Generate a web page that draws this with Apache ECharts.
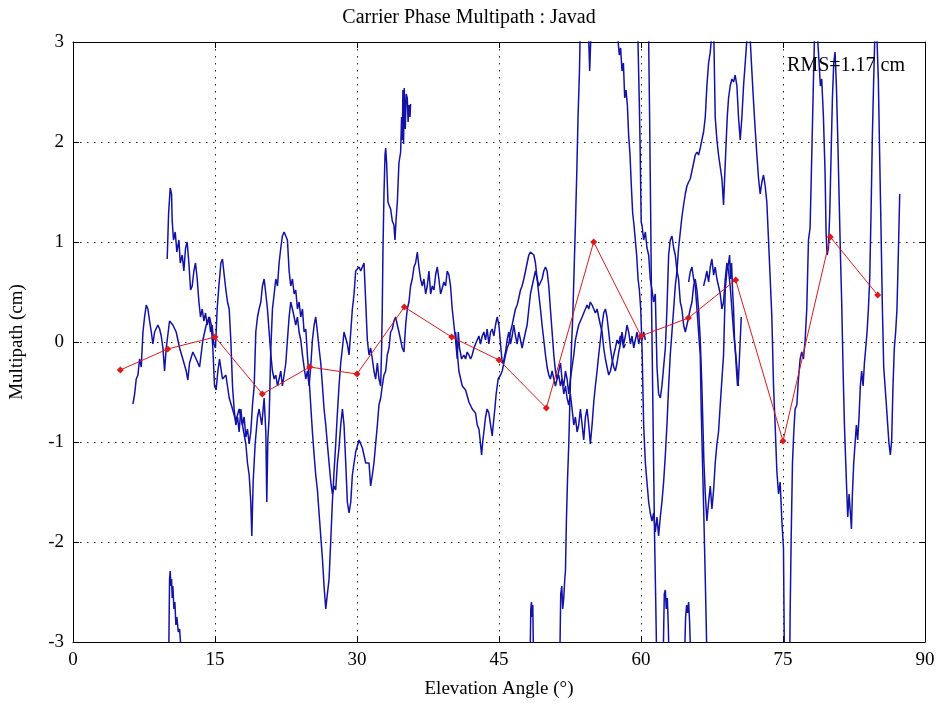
<!DOCTYPE html>
<html>
<head>
<meta charset="utf-8">
<script src="https://cdn.jsdelivr.net/npm/echarts@6/dist/echarts.min.js"></script>
<style>html,body{margin:0;padding:0;background:#fff;}#chart{width:938px;height:708px;}</style>
</head>
<body>
<div id="chart"></div>
<script>
// ---- data (elevation angle in degrees, multipath in cm) ----
const titleText = 'Carrier Phase Multipath : Javad';
const rmsText = 'RMS=1.17 cm';
const xName = 'Elevation Angle (\u00b0)';
const yName = 'Multipath (cm)';
const xRange = [0, 90, 15];
const yRange = [-3, 3, 1];

// binned mean (red)
const binAngles = [5,10,15,20,25,30,35,40,45,50,55,60,65,70,75,80,85];
const binMeans  = [-0.28,-0.07,0.05,-0.52,-0.25,-0.32,0.35,0.05,-0.18,-0.66,1.0,0.06,0.24,0.62,-0.99,1.05,0.47];

// blue multipath traces
const traceA = [[6.33,-0.62],[6.51,-0.52],[6.68,-0.37],[6.86,-0.33],[7.03,-0.17],[7.21,-0.25],[7.39,0.10],[7.56,0.25],[7.74,0.37],[7.91,0.33],[8.09,0.21],[8.27,0.10],[8.44,-0.02],[8.62,0.10],[8.79,0.10],[8.97,0.17],[9.15,0.13],[9.32,0.06],[9.50,-0.06],[9.67,-0.29],[9.85,-0.06],[10.20,0.21],[10.55,0.17],[10.90,0.10],[11.26,-0.06],[11.60,-0.17],[11.96,-0.29],[12.13,-0.38],[12.31,-0.21],[12.66,-0.10],[13.01,-0.17],[13.37,-0.25],[13.72,0.02],[14.07,0.17],[14.42,0.25],[14.60,0.17],[14.77,-0.06],[14.95,-0.44],[15.12,-0.48],[15.30,-0.29],[15.48,-0.17],[15.79,-0.37],[16.15,-0.33],[16.50,-0.56],[16.85,-0.67],[17.20,-0.79],[17.55,-0.67],[17.90,-0.83],[18.26,-1.02],[18.43,-1.21],[18.61,-1.33],[18.78,-1.60],[18.89,-1.94],[19.03,-1.40],[19.24,-1.02],[19.49,-0.75],[19.66,-0.67],[19.94,-0.83],[20.19,-0.56],[20.37,-0.90],[20.47,-1.60],[20.58,-0.98],[20.72,-0.75],[20.90,-0.06],[21.07,0.33],[21.25,0.48],[21.42,0.63],[21.60,0.56],[21.77,0.79],[21.95,0.94],[22.12,1.06],[22.30,1.10],[22.48,1.08],[22.65,1.02],[22.83,0.71],[23.00,0.56],[23.18,0.63],[23.36,0.48],[23.53,0.52],[23.71,0.33],[23.88,0.40],[24.06,0.25],[24.24,0.33],[24.41,0.10],[24.59,0.13],[24.76,-0.13],[24.94,-0.37],[25.11,-0.63],[25.29,-0.90],[25.47,-1.13],[25.64,-1.33],[25.82,-1.48],[25.99,-1.71],[26.17,-1.94],[26.35,-2.17],[26.52,-2.44],[26.70,-2.67],[26.87,-2.52],[27.05,-2.37],[27.23,-1.98],[27.40,-1.60],[27.58,-1.29],[27.75,-1.02],[27.93,-0.71],[28.10,-0.44],[28.28,-0.21],[28.46,-0.06],[28.63,0.10],[28.81,0.10],[28.98,-0.02],[29.16,-0.13],[29.34,0.10],[29.51,0.33],[29.69,0.48],[29.86,0.71],[30.22,0.75],[30.39,0.71],[30.56,0.75],[30.74,0.79],[30.92,0.40],[31.09,0.02],[31.27,-0.13],[31.44,-0.06],[31.62,-0.17],[31.79,-0.29],[31.97,-0.37],[32.15,-0.21],[32.32,-0.37],[32.50,-0.44],[32.60,-0.06],[32.67,0.33],[32.74,0.90],[32.85,1.48],[32.96,1.87],[33.03,1.94],[33.13,1.79],[33.27,1.40],[33.38,1.37],[33.55,1.33],[33.73,1.21],[33.90,1.17],[34.01,1.02],[34.12,1.21],[34.26,1.40],[34.43,1.79],[34.61,1.90],[34.71,2.25],[34.78,2.02],[34.85,2.52],[34.92,1.98],[34.99,2.54],[35.10,2.13],[35.20,2.48],[35.31,2.44],[35.40,2.20],[35.49,2.37],[35.60,2.25],[35.66,2.38]];

const traceB = [[9.95,0.83],[10.10,1.29],[10.27,1.54],[10.41,1.48],[10.48,1.21],[10.62,1.02],[10.80,1.10],[10.97,0.90],[11.19,1.02],[11.33,0.79],[11.54,0.87],[11.71,0.71],[11.89,0.94],[12.06,1.00],[12.24,0.79],[12.42,0.52],[12.59,0.56],[12.77,0.71],[12.94,0.79],[13.12,0.63],[13.30,0.40],[13.47,0.25],[13.65,0.33],[13.82,0.21],[14.00,0.29],[14.17,0.17],[14.35,0.25],[14.53,0.10],[14.70,0.17],[14.88,-0.02],[15.05,-0.06],[15.23,0.33],[15.41,0.56],[15.55,0.71],[15.62,0.79],[15.79,0.83],[15.97,0.67],[16.15,0.52],[16.32,0.40],[16.50,0.33],[16.67,0.02],[16.85,-0.44],[17.02,-0.67],[17.20,-0.83],[17.38,-0.75],[17.55,-0.90],[17.73,-0.67],[17.90,-0.83],[18.08,-0.75],[18.26,-0.95],[18.43,-0.87],[18.61,-1.02],[18.78,-0.90],[18.96,-0.63],[19.14,-0.44],[19.31,0.10],[19.49,0.25],[19.66,0.33],[19.84,0.40],[20.01,0.56],[20.19,0.63],[20.37,0.48],[20.54,0.33],[20.72,0.10],[20.90,-0.13],[21.07,-0.29],[21.25,-0.37],[21.42,-0.33],[21.60,-0.44],[21.77,-0.37],[21.95,-0.29],[22.12,-0.44],[22.30,-0.33],[22.48,-0.21],[22.65,0.02],[22.83,0.25],[23.00,0.40],[23.18,0.33],[23.36,0.25],[23.53,0.17],[23.71,0.25],[23.88,0.10],[24.06,0.02],[24.24,-0.13],[24.41,-0.25],[24.59,-0.37],[24.76,-0.29],[24.94,-0.44],[25.11,-0.25],[25.29,0.02],[25.47,0.17],[25.64,0.25],[25.82,0.10],[25.99,-0.06],[26.17,-0.21],[26.35,-0.44],[26.52,-0.67],[26.70,-0.83],[26.87,-1.02],[27.05,-1.21],[27.23,-1.40],[27.40,-1.52],[27.58,-1.44],[27.75,-1.48],[27.93,-1.21],[28.10,-1.06],[28.28,-0.83],[28.46,-0.67],[28.63,-0.83],[28.81,-1.21],[28.98,-1.60],[29.16,-1.71],[29.34,-1.60],[29.51,-1.33],[29.69,-1.21],[29.86,-1.10],[30.22,-0.98],[30.57,-1.06],[30.92,-1.21],[31.27,-1.21],[31.44,-1.44],[31.62,-1.33],[31.79,-1.21],[31.97,-1.02],[32.15,-0.83],[32.32,-0.63],[32.50,-0.56],[32.67,-0.44],[32.85,-0.33],[33.03,-0.29],[33.20,-0.13],[33.38,-0.06],[33.55,0.10],[33.73,0.13],[33.90,0.21],[34.08,0.25],[34.26,0.17],[34.43,0.10],[34.61,0.02],[34.78,-0.06],[34.96,-0.10],[35.14,0.17]];

const traceC = [[35.14,0.17],[35.31,0.33],[35.49,0.40],[35.66,0.56],[35.84,0.63],[36.02,0.75],[36.19,0.79],[36.37,0.90],[36.54,0.75],[36.72,0.63],[36.89,0.56],[37.07,0.63],[37.25,0.48],[37.42,0.56],[37.60,0.71],[37.78,0.48],[37.95,0.56],[38.13,0.52],[38.30,0.67],[38.48,0.75],[38.65,0.63],[38.83,0.48],[39.01,0.48],[39.18,0.60],[39.36,0.56],[39.53,0.71],[39.71,0.67],[39.88,0.56],[40.06,0.33],[40.24,0.17],[40.41,0.02],[40.59,-0.17],[40.70,0.10],[40.83,-0.06],[41.05,-0.17],[41.29,-0.13],[41.47,-0.17],[41.64,-0.10],[41.82,-0.13],[42.00,-0.17],[42.17,-0.13],[42.35,-0.06],[42.52,-0.02],[42.70,0.02],[42.88,0.06],[43.05,-0.02],[43.23,0.06],[43.40,0.10],[43.58,0.02],[43.75,0.13],[43.93,-0.02],[44.11,0.10],[44.28,0.13],[44.46,0.06],[44.63,0.17],[44.81,0.25],[44.99,0.17],[45.16,-0.02],[45.34,-0.21],[45.51,-0.18],[45.69,-0.10],[45.86,0.02],[46.04,0.10],[46.21,-0.02],[46.39,0.06],[46.56,0.17],[46.74,0.06],[46.92,-0.02],[47.09,0.10],[47.27,0.02],[47.44,-0.06],[47.62,0.02],[47.80,0.10],[47.97,0.17],[48.15,0.33],[48.32,0.48],[48.50,0.56],[48.85,0.71],[49.20,0.56],[49.55,0.63],[49.73,0.71],[49.91,0.75],[50.08,0.71],[50.26,0.56],[50.43,0.33],[50.61,0.10],[50.79,-0.13],[50.96,-0.29],[51.14,-0.37],[51.31,-0.33],[51.49,-0.44],[51.66,-0.37],[51.84,-0.52],[52.02,-0.44],[52.19,-0.56],[52.37,-0.63],[52.54,-0.52],[52.72,-0.67],[52.90,-0.83],[53.07,-0.75],[53.25,-0.90],[53.42,-0.83],[53.60,-0.67],[53.78,-0.83],[53.95,-0.98],[54.13,-0.75],[54.30,-0.67],[54.48,-0.83],[54.65,-1.02],[54.83,-0.83],[55.01,-0.60],[55.18,-0.44],[55.36,-0.29],[55.53,-0.13],[55.71,0.02],[55.89,0.17],[56.06,0.29],[56.24,0.33],[56.41,0.25],[56.59,0.10],[56.77,-0.06],[56.94,-0.17],[57.12,-0.25],[57.29,-0.29],[57.47,-0.21],[57.65,-0.10],[57.82,-0.02],[58.00,0.10],[58.17,-0.02],[58.35,0.06],[58.52,0.17],[58.70,0.10],[58.88,-0.02],[59.05,0.06],[59.23,-0.06],[59.40,0.02],[59.58,0.10],[59.76,-0.02],[59.93,0.06],[60.11,0.02],[60.28,0.10],[60.46,0.02]];

const traceD = [[40.41,0.10],[40.76,-0.29],[41.12,-0.44],[41.47,-0.48],[41.82,-0.60],[42.17,-0.67],[42.52,-0.71],[42.70,-0.83],[42.88,-0.87],[43.05,-1.02],[43.16,-1.13],[43.30,-0.98],[43.40,-0.90],[43.58,-0.75],[43.75,-0.67],[43.93,-0.71],[44.11,-0.83],[44.28,-0.94],[44.39,-0.83],[44.56,-0.67],[44.70,-0.52],[44.91,-0.37],[45.16,-0.33],[45.34,-0.29],[45.51,-0.21],[45.69,-0.13],[45.86,-0.06],[46.04,-0.02],[46.21,0.10],[46.39,0.17],[46.56,0.25],[46.74,0.33],[46.92,0.37],[47.09,0.44],[47.27,0.52],[47.44,0.56],[47.62,0.63],[47.80,0.71],[47.97,0.79],[48.15,0.87],[48.32,0.90],[48.50,0.90],[48.68,0.87],[48.85,0.79],[49.03,0.63],[49.20,0.48],[49.38,0.33],[49.55,0.17],[49.73,0.02],[49.91,-0.13],[50.08,-0.25],[50.26,-0.33],[50.43,-0.37],[50.61,-0.29],[50.79,-0.37],[50.96,-0.44],[51.14,-0.37],[51.31,-0.29],[51.49,-0.21],[51.66,-0.37],[51.84,-0.44],[52.02,-0.29],[52.19,-0.37],[52.37,-0.52],[52.54,-0.37],[52.72,-0.25],[52.90,-0.13],[53.07,0.02],[53.25,0.10],[53.42,0.17],[53.60,0.21],[53.78,0.25],[53.95,0.29],[54.13,0.33],[54.30,0.37],[54.48,0.33],[54.65,0.40],[54.83,0.37],[55.01,0.33],[55.18,0.29],[55.36,0.33],[55.53,0.25],[55.71,0.17],[55.89,0.10],[56.06,-0.06],[56.24,-0.17],[56.41,-0.25],[56.59,-0.33],[56.77,-0.29],[56.94,-0.21],[57.12,-0.13],[57.29,-0.06],[57.47,0.02],[57.65,-0.02],[57.82,0.06],[58.00,0.02],[58.17,-0.06],[58.35,-0.02]];

const traceE = [[51.42,-3.21],[51.52,-2.52],[51.63,-2.44],[51.73,-2.67],[51.84,-2.56],[51.95,-2.37],[52.02,-2.29],[52.12,-1.79],[52.23,-1.40],[52.37,-1.02],[52.51,-0.52],[52.65,-0.06],[52.79,0.25],[52.93,0.71],[53.07,1.17],[53.21,1.67],[53.35,2.25],[53.50,2.71],[53.64,3.40],[53.95,4.20],[54.30,3.40],[54.48,3.02],[54.58,2.71],[54.69,3.02],[55.01,4.20],[57.29,3.79],[57.57,3.02],[57.71,2.87],[57.85,2.94],[57.99,2.71],[58.14,2.79],[58.28,2.44],[58.42,2.52],[58.56,2.37],[58.70,2.06],[58.84,1.87],[58.98,1.56],[59.12,1.29],[59.26,1.17],[59.40,1.02],[59.54,0.87],[59.69,0.63],[59.83,0.52],[59.97,0.33],[60.11,-0.06],[60.28,-0.83],[60.46,-1.21],[60.63,-1.40],[60.81,-1.60],[60.98,-1.71],[61.16,-1.79],[61.33,-1.71],[61.51,-1.90],[61.69,-1.75],[61.86,-1.94],[62.04,-1.75],[62.21,-1.60],[62.39,-1.40],[62.57,-1.13],[62.74,-0.83],[62.92,-0.44],[63.09,-0.13],[63.27,0.10],[63.45,0.33],[63.62,0.56],[63.80,0.71],[63.97,0.94],[64.15,1.10],[64.32,1.25],[64.50,1.37],[64.68,1.48],[64.85,1.56],[65.03,1.60],[65.20,1.63],[65.38,1.71],[65.56,1.79],[65.73,1.87],[65.91,1.90],[66.08,1.87],[66.26,1.94],[66.43,2.02],[66.61,2.10],[66.79,2.25],[66.96,2.56],[67.14,2.79],[67.32,2.90],[67.42,3.02],[67.56,3.40],[67.70,3.02],[67.84,2.25],[68.02,2.02],[68.19,1.87],[68.37,1.75],[68.55,1.63],[68.72,1.37],[68.83,1.63],[68.97,1.94],[69.11,2.25],[69.25,2.44],[69.42,2.56],[69.60,2.63],[69.78,2.60],[69.95,2.67],[70.13,2.56],[70.30,2.25],[70.48,2.02],[70.66,2.25],[70.83,2.56],[71.01,2.79],[71.18,3.02],[71.36,3.40],[71.54,3.02],[71.71,2.71],[71.89,2.40],[72.06,2.13],[72.24,1.87],[72.42,1.63],[72.59,1.48],[72.77,1.60],[72.94,1.67],[73.12,1.56],[73.29,1.40],[73.47,1.02],[73.65,0.63],[73.82,0.25],[74.00,-0.44],[74.17,-0.83],[74.35,-1.29],[74.53,-1.52],[74.70,-1.40],[74.88,-1.79],[75.05,-2.06],[75.15,-3.20],[75.40,-3.90]];

const traceF = [[59.50,3.60],[59.68,3.02],[59.75,2.70],[59.82,2.40],[59.90,2.00],[59.96,1.60],[60.02,1.20],[60.10,1.17],[60.28,1.02],[60.46,1.10],[60.63,0.94],[60.81,0.87],[60.98,0.63],[61.16,0.52],[61.33,0.40],[61.51,0.48],[61.69,-0.25],[61.86,-0.52],[62.04,-0.56],[62.21,-0.44],[62.39,-0.25],[62.57,-0.06],[62.74,0.33],[62.92,0.87],[63.09,1.02],[63.27,1.06],[63.45,0.94],[63.62,0.87],[63.80,0.71],[63.97,0.63],[64.15,0.40],[64.32,0.33],[64.50,0.17],[64.68,0.10],[64.85,0.17],[65.03,0.25],[65.20,0.33],[65.38,0.40],[65.56,0.56],[65.73,0.63],[65.91,0.52],[66.08,0.33],[66.26,0.02],[66.43,-0.44],[66.54,-0.83],[66.65,-1.21],[66.79,-1.52],[66.96,-1.79],[67.14,-1.60],[67.32,-1.44],[67.49,-1.67],[67.67,-1.48],[67.84,-1.21],[68.02,-1.02],[68.19,-0.90],[68.37,-0.63],[68.55,-0.37],[68.72,-0.13],[68.90,0.52],[69.07,0.71],[69.25,0.79],[69.36,0.87],[69.46,0.63],[69.57,0.79],[69.67,0.52],[69.78,0.33],[69.88,0.02],[69.99,-0.13],[70.09,-0.29],[70.20,-0.44],[70.30,-0.37],[70.41,-0.13],[70.52,0.10],[70.59,0.25]];

const traceG = [[60.74,3.40],[60.81,3.02],[60.91,2.25],[61.02,1.29],[61.12,0.33],[61.23,-0.44],[61.33,-1.21],[61.44,-1.98],[61.55,-2.56],[61.65,-3.13]];

const traceH = [[65.03,0.60],[65.20,0.70],[65.38,0.75],[65.56,0.63],[65.73,0.56],[65.91,0.33],[66.08,0.10],[66.26,-0.13],[66.36,-0.67],[66.50,-1.21],[66.65,-1.79],[66.79,-2.37],[66.93,-3.00],[67.07,-3.52]];

const traceI = [[66.61,0.56],[66.79,0.63],[66.96,0.71],[67.14,0.60],[67.32,0.75],[67.49,0.83],[67.67,0.67],[67.84,0.75],[68.02,0.63],[68.19,0.56],[68.37,0.48],[68.55,0.33],[68.72,0.40],[68.90,0.63],[69.07,0.79],[69.25,0.71],[69.42,0.56],[69.60,0.33],[69.78,0.10],[69.95,-0.06],[70.13,-0.25],[70.30,-0.44]];

const traceJ = [[75.65,-3.90],[75.75,-2.75],[75.86,-1.98],[76.00,-1.21],[76.14,-0.90],[76.28,-0.67],[76.46,-0.63],[76.63,-0.37],[76.81,-0.17],[76.98,-0.10],[77.16,-0.17],[77.34,0.02],[77.51,0.33],[77.69,1.02],[77.86,1.14],[78.04,1.87],[78.22,2.63],[78.32,3.02],[78.46,3.60],[78.67,3.02],[78.81,2.79],[78.95,2.56],[79.09,2.63],[79.27,2.25],[79.45,1.67],[79.55,1.10],[79.66,0.87],[79.80,0.94],[79.94,1.29],[80.08,1.87],[80.22,2.44],[80.36,2.79],[80.50,2.90],[80.64,2.56],[80.78,2.06],[80.92,1.48],[81.06,0.90],[81.20,0.40],[81.35,-0.29],[81.49,-0.83],[81.63,-1.21],[81.73,-1.48],[81.84,-1.75],[81.98,-1.52],[82.12,-1.71],[82.23,-1.87],[82.33,-1.52],[82.47,-1.21],[82.61,-1.02],[82.75,-0.83],[82.89,-0.98],[83.03,-0.75],[83.17,-0.44],[83.31,-0.29],[83.46,-0.44],[83.60,-0.21],[83.74,-0.06],[83.88,0.10],[84.02,0.33],[84.16,0.63],[84.30,1.29],[84.44,2.06],[84.58,2.63],[84.69,3.02],[84.79,3.40],[84.93,3.02],[85.07,2.63],[85.21,1.87],[85.36,1.10],[85.50,0.33],[85.64,-0.25],[85.78,-0.44],[85.92,-0.63],[86.06,-0.83],[86.20,-1.02],[86.34,-1.13],[86.48,-0.98],[86.62,-0.44],[86.76,-0.06],[86.90,0.10],[87.04,0.33],[87.18,0.87],[87.33,1.48]];

const lowA = [[10.13,-3.00],[10.20,-2.37],[10.27,-2.29],[10.34,-2.44],[10.41,-2.37],[10.48,-2.56],[10.55,-2.44],[10.66,-2.67],[10.76,-2.60],[10.87,-2.83],[10.97,-2.75],[11.12,-2.90],[11.26,-2.87],[11.40,-3.06],[11.54,-3.52]];
const lowB = [[48.29,-3.13],[48.36,-2.67],[48.43,-2.60],[48.50,-2.75],[48.57,-2.63],[48.64,-3.13]];
const lowC = [[62.35,-3.13],[62.46,-2.52],[62.57,-2.48],[62.67,-2.67],[62.78,-2.56],[62.88,-2.83],[62.95,-3.13]];
const lowD = [[64.61,-3.13],[64.71,-2.75],[64.82,-2.63],[64.92,-2.71],[65.03,-2.60],[65.13,-2.79],[65.24,-3.13]];

const blueTraces = [traceA, traceB, traceC, traceD, traceE, traceF, traceG, traceH, traceI, traceJ, lowA, lowB, lowC, lowD];

// ---- chart ----
const FONT = 'Liberation Serif';
const BLUE = '#1212a6';
const RED = '#e01818';
const chart = echarts.init(document.getElementById('chart'));

const series = blueTraces.map(t => ({
  type: 'line', data: t, xAxisIndex: 0, yAxisIndex: 0,
  showSymbol: false, symbol: 'none', clip: true, silent: true,
  lineStyle: { color: BLUE, width: 1.5 }, z: 2
}));
series.push({
  type: 'line', data: binAngles.map((a, i) => [a, binMeans[i]]),
  xAxisIndex: 0, yAxisIndex: 0, clip: true,
  symbol: 'diamond', symbolSize: 7, showSymbol: true,
  itemStyle: { color: RED }, lineStyle: { color: RED, width: 1 }, z: 5
});

const gridLine = { show: true, lineStyle: { color: '#222', width: 1, type: [1.5, 5.5] } };
const tickStyle = { show: true, inside: true, length: 6, lineStyle: { color: '#000', width: 1 } };
const lineStyleAxis = { show: true, onZero: false, lineStyle: { color: '#000', width: 1 } };
const labelStyle = { fontFamily: FONT, fontSize: 19, color: '#000' };

chart.setOption({
  animation: false,
  backgroundColor: '#fff',
  title: [
    { text: titleText, left: 'center', top: 3, textStyle: { fontFamily: FONT, fontSize: 20, fontWeight: 'normal', color: '#000' } },
    { text: rmsText, right: 28, top: 51, textStyle: { fontFamily: FONT, fontSize: 20, fontWeight: 'normal', color: '#000' } }
  ],
  grid: { left: 72, right: 13, top: 42, bottom: 66, containLabel: false, show: false },
  xAxis: [
    { type: 'value', position: 'bottom', min: xRange[0], max: xRange[1], interval: xRange[2],
      axisLine: lineStyleAxis, axisTick: tickStyle, splitLine: gridLine,
      axisLabel: Object.assign({ margin: 9 }, labelStyle),
      name: xName, nameLocation: 'middle', nameGap: 38, nameTextStyle: labelStyle },
    { type: 'value', position: 'top', min: xRange[0], max: xRange[1], interval: xRange[2],
      axisLine: lineStyleAxis, axisTick: tickStyle, splitLine: { show: false }, axisLabel: { show: false } }
  ],
  yAxis: [
    { type: 'value', position: 'left', min: yRange[0], max: yRange[1], interval: yRange[2],
      axisLine: lineStyleAxis, axisTick: tickStyle, splitLine: gridLine,
      axisLabel: Object.assign({ margin: 9 }, labelStyle),
      name: yName, nameLocation: 'middle', nameGap: 46, nameRotate: 90, nameTextStyle: labelStyle },
    { type: 'value', position: 'right', min: yRange[0], max: yRange[1], interval: yRange[2],
      axisLine: lineStyleAxis, axisTick: tickStyle, splitLine: { show: false }, axisLabel: { show: false } }
  ],
  series: series
});
</script>
</body>
</html>
